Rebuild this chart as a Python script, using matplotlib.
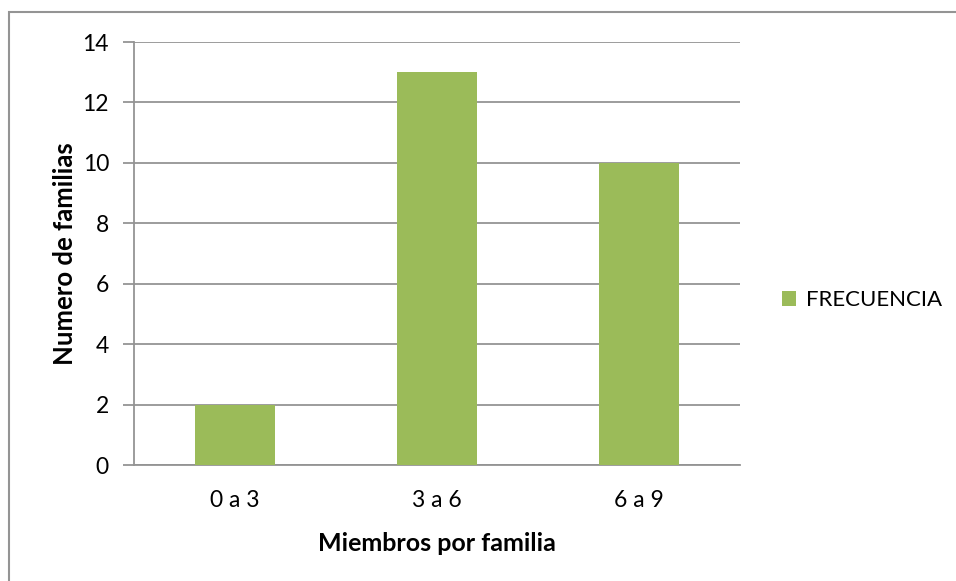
import matplotlib.pyplot as plt
from matplotlib.patches import Rectangle

plt.rcParams['font.family'] = ['Lato', 'DejaVu Sans']

categorias = ["0 a 3", "3 a 6", "6 a 9"]
frecuencia = [2, 13, 10]
y_ticks = [0, 2, 4, 6, 8, 10, 12, 14]

verde = "#9BBB59"
gris = "#949494"

W, H = 956, 581
fig = plt.figure(figsize=(W / 100, H / 100), dpi=100)
ax = fig.add_axes([134 / W, 1 - 465 / H, (740 - 134) / W, (465 - 42) / H])

# outer chart border (only top/left fall inside the image)
fig.patches.append(Rectangle((8.5 / W, -0.1), 1.2, 1.1 - 12.5 / H, transform=fig.transFigure,
                             fill=False, edgecolor=gris, linewidth=1.5))

x = range(len(categorias))
ax.bar(x, frecuencia, width=0.4, color=verde, label="FRECUENCIA", zorder=3)

ax.set_xlim(-0.5, len(categorias) - 0.5)
ax.set_ylim(0, 14)
ax.set_yticks(y_ticks)
ax.set_xticks(list(x))
ax.set_xticklabels(categorias)
ax.grid(axis='y', color=gris, linewidth=1.3, zorder=0)
for s in ["top", "right"]:
    ax.spines[s].set_visible(False)
for s in ["left", "bottom"]:
    ax.spines[s].set_color(gris)
    ax.spines[s].set_linewidth(1.3)
ax.tick_params(axis='y', length=8, color=gris, width=1.3, labelsize=16.5, pad=10)
ax.tick_params(axis='x', length=0, labelsize=16.5, pad=18)

ax.set_xlabel("Miembros por familia", fontsize=18, fontweight='bold', labelpad=15)
ax.set_ylabel("Numero de familias", fontsize=18.5, fontweight='bold', labelpad=4)

ax.legend(loc='center left', bbox_to_anchor=(762 / W, 1 - 300 / H), bbox_transform=fig.transFigure,
          frameon=False, fontsize=16, handlelength=0.65, handleheight=0.65, handletextpad=0.45)

fig.savefig("out.png", dpi=100)
